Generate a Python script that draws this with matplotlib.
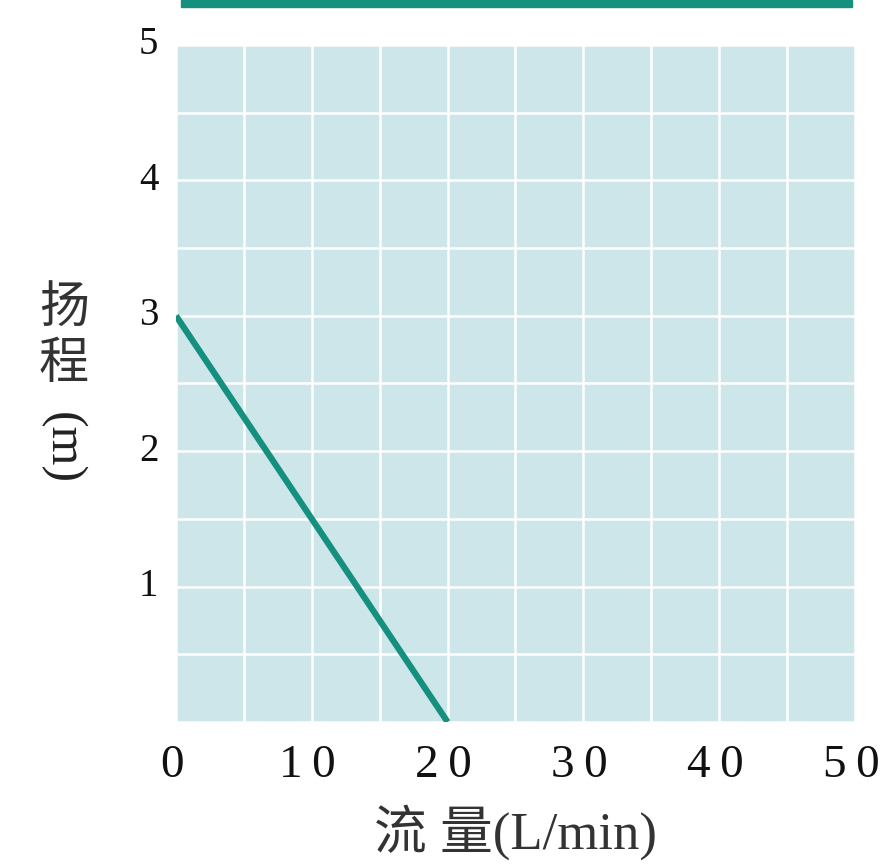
import matplotlib.pyplot as plt
from matplotlib.patches import Rectangle

# pump curve: flow (L/min) vs head (m)
flow = [0, 20]
head = [3, 0]
xticks = [0, 10, 20, 30, 40, 50]
yticks = [1, 2, 3, 4, 5]

teal = '#15907f'
bg = '#cde6ea'
fonts = ['Liberation Serif', 'Noto Sans CJK SC']

fig = plt.figure(figsize=(8.91, 8.64), dpi=100)
ax = fig.add_axes([0.1975, 0.1644, 0.7621, 0.7836])
ax.set_facecolor(bg)

ax.plot(flow, head, color=teal, lw=4.5, solid_capstyle='butt', zorder=3)

ax.set_xlim(0, 50)
ax.set_ylim(0, 5)
ax.set_xticks(range(0, 51, 5))
ax.set_yticks([i * 0.5 for i in range(11)])
ax.grid(True, color='white', lw=1.8)
ax.set_axisbelow(True)
ax.tick_params(length=0)
ax.set_xticklabels([])
ax.set_yticklabels([])
for s in ax.spines.values():
    s.set_visible(False)

for v in xticks:
    ax.text(v - 0.3, -0.32, '\u2009'.join(str(v)), ha='center', va='center',
            fontsize=34, family=fonts, color='#111111')
for v in yticks:
    ax.text(-1.3, v, str(v), ha='right', va='center', fontsize=28,
            family=fonts, color='#111111')

# axis titles
fig.text(516 / 891, 1 - 832 / 864, '流 量(L/min)', ha='center', va='center',
         fontsize=38, family=fonts, color='#333333')
fig.text(64 / 891, 1 - 310 / 864, '扬', ha='center', va='center',
         fontsize=36, family=fonts, color='#333333')
fig.text(64 / 891, 1 - 366 / 864, '程', ha='center', va='center',
         fontsize=36, family=fonts, color='#333333')
fig.text(62 / 891, 1 - 448 / 864, '(m)', ha='center', va='center',
         fontsize=36, family=fonts, color='#222222', rotation=-90)

# header bar at the very top
fig.patches.append(Rectangle((181 / 891, 1 - 7 / 864), 671 / 891, 7 / 864,
                             transform=fig.transFigure, color=teal))

fig.savefig('out.png', dpi=100)
